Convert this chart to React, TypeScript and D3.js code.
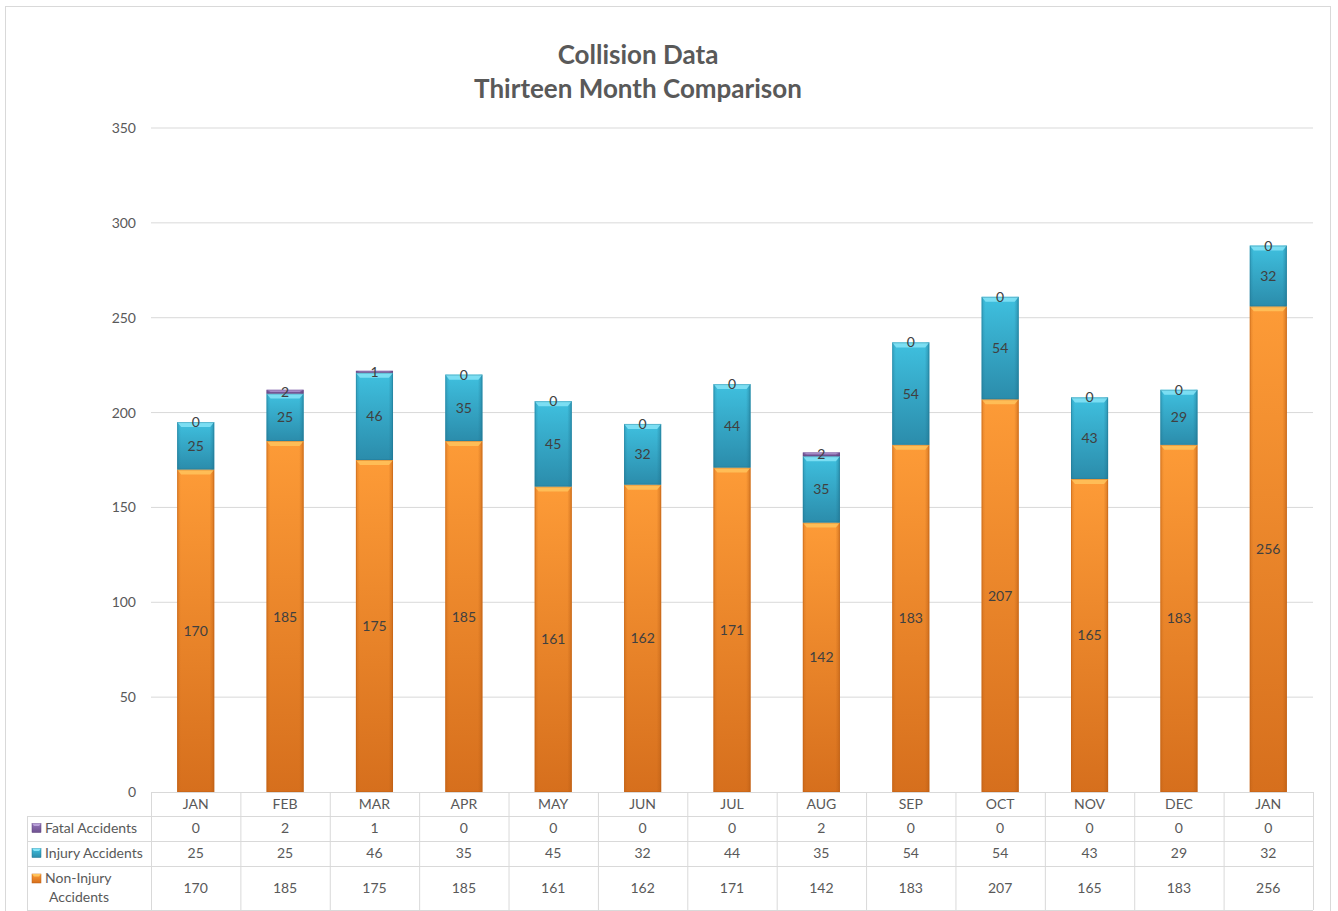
import React from "react";
import * as d3 from "d3";

const months = ["JAN", "FEB", "MAR", "APR", "MAY", "JUN", "JUL", "AUG", "SEP", "OCT", "NOV", "DEC", "JAN"];
const fatal = [0, 2, 1, 0, 0, 0, 0, 2, 0, 0, 0, 0, 0];
const injury = [25, 25, 46, 35, 45, 32, 44, 35, 54, 54, 43, 29, 32];
const nonInjury = [170, 185, 175, 185, 161, 162, 171, 142, 183, 207, 165, 183, 256];
const yTicks = [0, 50, 100, 150, 200, 250, 300, 350];

const FONT = "Lato, 'Open Sans', sans-serif";
const W = 1338;
const H = 911;
const plotLeft = 151;
const plotRight = 1313;
const plotTop = 128;
const plotBottom = 792;
const FS = 14;

const series = [
  { key: "nonInjury", name: ["Non-Injury", "Accidents"], values: nonInjury, id: "or", light: "#ffc35c", c1: "#fd9b37", c2: "#d66f1d", side: "#b95d14" },
  { key: "injury", name: ["Injury Accidents"], values: injury, id: "cy", light: "#86e4f7", c1: "#3fc0df", c2: "#2b8cab", side: "#1f7490" },
  { key: "fatal", name: ["Fatal Accidents"], values: fatal, id: "pu", light: "#b8a0d8", c1: "#9273b8", c2: "#6f5190", side: "#5a3f78" },
];

export default function App() {
  const x = d3
    .scaleBand<number>()
    .domain(months.map((_, i) => i))
    .range([plotLeft, plotRight])
    .paddingInner(0.585)
    .paddingOuter(0.2925);
  const y = d3.scaleLinear().domain([0, 350]).range([plotBottom, plotTop]);
  const step = x.step();
  const colLeft = (i: number) => plotLeft + step * i;

  const stack = d3
    .stack<number>()
    .keys(["nonInjury", "injury", "fatal"])
    .value((i, key) => (key === "nonInjury" ? nonInjury[i] : key === "injury" ? injury[i] : fatal[i]));
  const stacked = stack(months.map((_, i) => i));

  const rowLines = [792, 816, 841, 866, 910];
  const tableRows = [
    { s: series[2], yc: 828 },
    { s: series[1], yc: 853 },
    { s: series[0], yc: 888 },
  ];

  return (
    <svg width={W} height={H} style={{ position: "absolute", left: 0, top: 0 }}>
      <defs>
        {series.map((s) => (
          <React.Fragment key={s.id}>
            <linearGradient id={`v-${s.id}`} x1="0" y1="0" x2="0" y2="1">
              <stop offset="0" stopColor={s.c1} />
              <stop offset="1" stopColor={s.c2} />
            </linearGradient>
            <linearGradient id={`h-${s.id}`} x1="0" y1="0" x2="1" y2="0">
              <stop offset="0" stopColor={s.side} stopOpacity="0.35" />
              <stop offset="0.1" stopColor={s.side} stopOpacity="0" />
              <stop offset="0.88" stopColor={s.side} stopOpacity="0" />
              <stop offset="1" stopColor={s.side} stopOpacity="0.55" />
            </linearGradient>
          </React.Fragment>
        ))}
      </defs>
      <rect x={5.5} y={6.5} width={1325} height={910} fill="#fff" stroke="#d9d9d9" strokeWidth={1} />

      <text x={638} y={64} textAnchor="middle" fontFamily={FONT} fontWeight="bold" fontSize={26} fill="#595959">
        Collision Data
      </text>
      <text x={638} y={98} textAnchor="middle" fontFamily={FONT} fontWeight="bold" fontSize={26} fill="#595959">
        Thirteen Month Comparison
      </text>

      {yTicks.map((t) => (
        <g key={t}>
          {t > 0 && (
            <line x1={plotLeft} x2={plotRight} y1={y(t)} y2={y(t)} stroke="#d9d9d9" strokeWidth={1} />
          )}
          <text x={136} y={y(t) + 5} textAnchor="end" fontFamily={FONT} fontSize={FS} fill="#595959">
            {t}
          </text>
        </g>
      ))}

      {stacked.map((layer, li) => {
        const s = series[li];
        return (
          <g key={layer.key}>
            {layer.map((d, i) => {
              const bx = x(i) as number;
              const bw = x.bandwidth();
              const y0 = y(d[1]);
              const h = y(d[0]) - y(d[1]);
              if (h <= 0) return null;
              const bev = Math.min(5, h / 2);
              return (
                <g key={i}>
                  <rect x={bx} y={y0} width={bw} height={h} fill={`url(#v-${s.id})`} />
                  <rect x={bx} y={y0} width={bw} height={h} fill={`url(#h-${s.id})`} />
                  <path
                    d={`M${bx},${y0}H${bx + bw}L${bx + bw - 4},${y0 + bev}H${bx + 4}Z`}
                    fill={s.light}
                    opacity={0.85}
                  />
                  <rect x={bx + 0.5} y={y0 + 0.5} width={bw - 1} height={Math.max(0, h - 1)} fill="none" stroke={s.side} strokeOpacity={0.35} />
                </g>
              );
            })}
          </g>
        );
      })}

      {stacked.map((layer, li) => (
        <g key={`lbl-${layer.key}`}>
          {layer.map((d, i) => {
            const cx = (x(i) as number) + x.bandwidth() / 2;
            const cy = (y(d[0]) + y(d[1])) / 2;
            return (
              <text key={i} x={cx} y={cy + 5} textAnchor="middle" fontFamily={FONT} fontSize={FS} fill="#404040">
                {series[li].values[i]}
              </text>
            );
          })}
        </g>
      ))}

      {/* data table */}
      <g stroke="#d9d9d9" strokeWidth={1}>
        <line x1={plotLeft} x2={plotRight} y1={rowLines[0] + 0.5} y2={rowLines[0] + 0.5} />
        {rowLines.slice(1).map((ry) => (
          <line key={ry} x1={27} x2={plotRight} y1={ry + 0.5} y2={ry + 0.5} />
        ))}
        <line x1={27.5} x2={27.5} y1={816} y2={910} />
        {months.map((_, i) => (
          <line key={i} x1={colLeft(i) + 0.5} x2={colLeft(i) + 0.5} y1={792} y2={910} />
        ))}
        <line x1={plotRight + 0.5} x2={plotRight + 0.5} y1={792} y2={910} />
      </g>
      {months.map((m, i) => (
        <text key={i} x={colLeft(i) + step / 2} y={809} textAnchor="middle" fontFamily={FONT} fontSize={FS} fill="#595959">
          {m}
        </text>
      ))}
      {tableRows.map(({ s, yc }) => (
        <g key={s.id}>
          <rect x={32} y={s.name.length > 1 ? yc - 14 : yc - 4.5} width={9} height={9} fill={`url(#v-${s.id})`} stroke={s.side} strokeWidth={0.5} />
          <path
            d={`M32,${(s.name.length > 1 ? yc - 14 : yc - 4.5)}h9l-2,2.5h-5z`}
            fill={s.light}
          />
          {s.name.length > 1 ? (
            <>
              <text x={45} y={yc - 5} fontFamily={FONT} fontSize={FS} fill="#595959">{s.name[0]}</text>
              <text x={79} y={yc + 14} textAnchor="middle" fontFamily={FONT} fontSize={FS} fill="#595959">{s.name[1]}</text>
            </>
          ) : (
            <text x={45} y={yc + 5} fontFamily={FONT} fontSize={FS} fill="#595959">{s.name[0]}</text>
          )}
          {s.values.map((v, i) => (
            <text key={i} x={colLeft(i) + step / 2} y={yc + 5} textAnchor="middle" fontFamily={FONT} fontSize={FS} fill="#595959">
              {v}
            </text>
          ))}
        </g>
      ))}
    </svg>
  );
}
